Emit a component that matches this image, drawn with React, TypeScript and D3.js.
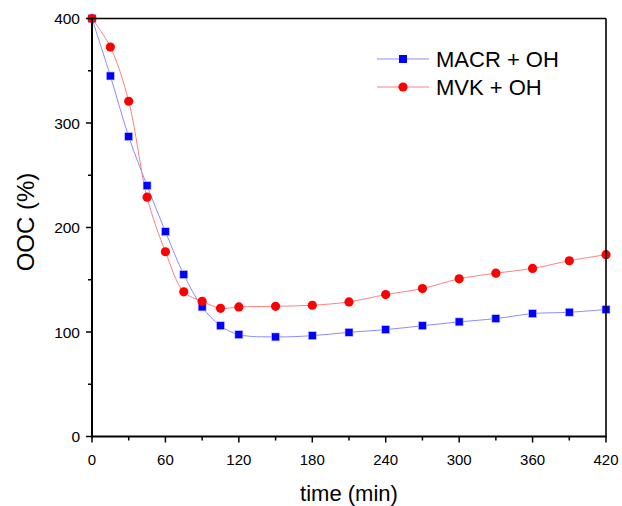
import React from "react";
import * as d3 from "d3";

const times = [0, 15, 30, 45, 60, 75, 90, 105, 120, 150, 180, 210, 240, 270, 300, 330, 360, 390, 420];
const macr = [400, 345, 287, 240, 196, 155, 124, 106, 97.5, 95.3, 96.5, 99.7, 102.3, 106, 109.7, 112.8, 117.6, 118.9, 121.5];
const mvk = [400, 372.7, 320.8, 229, 176.8, 138.4, 129.4, 122.7, 124, 124.6, 125.6, 128.8, 135.8, 141.6, 150.9, 156.3, 160.8, 168.2, 174];
const xTicks = [0, 60, 120, 180, 240, 300, 360, 420];
const xMinor = [30, 90, 150, 210, 270, 330, 390];
const yTicks = [0, 100, 200, 300, 400];
const yMinor = [50, 150, 250, 350];
const seriesNames = ["MACR + OH", "MVK + OH"];

const W = 622, H = 506;
const L = 92, R = 606, T = 18.5, B = 436.5;
const FONT = "Liberation Sans, Arial, sans-serif";

export default function App() {
  const x = d3.scaleLinear().domain([0, 420]).range([L, R]);
  const y = d3.scaleLinear().domain([0, 400]).range([B, T]);
  const line = d3.line<number>().curve(d3.curveCatmullRom.alpha(0.5));
  const blueLine = line(times.map((t, i) => [x(t), y(macr[i])] as any) as any) as string;
  const redLine = line(times.map((t, i) => [x(t), y(mvk[i])] as any) as any) as string;
  const sq = 8;
  return (
    <svg width={W} height={H} style={{ position: "absolute", left: 0, top: 0 }} fontFamily={FONT}>
      <rect x={0} y={0} width={W} height={H} fill="white" />
      <defs>
        <clipPath id="plot">
          <rect x={L} y={T - 6} width={R - L} height={B - T + 6} />
        </clipPath>
      </defs>
      {/* lines */}
      <g clipPath="url(#plot)">
        <path d={blueLine} fill="none" stroke="#8c8cff" strokeWidth={1} />
        <path d={redLine} fill="none" stroke="#ff8080" strokeWidth={1} />
      </g>
      {/* markers */}
      {times.map((t, i) => (
        <rect key={"b" + i} x={x(t) - sq / 2} y={y(macr[i]) - sq / 2} width={sq} height={sq} fill="#0000ff" stroke="#c8c8ff" strokeWidth={0.6} />
      ))}
      {times.map((t, i) => (
        <circle key={"r" + i} cx={x(t)} cy={y(mvk[i])} r={4.6} fill="#ff0000" />
      ))}
      {/* frame */}
      <line x1={L} x2={R} y1={T} y2={T} stroke="#000" strokeWidth={1.6} />
      <line x1={R} x2={R} y1={T} y2={B} stroke="#000" strokeWidth={1.6} />
      <line x1={L} x2={L} y1={T - 0.8} y2={B + 1} stroke="#000" strokeWidth={2} />
      <line x1={L - 1} x2={R + 0.8} y1={B} y2={B} stroke="#000" strokeWidth={2} />
      {/* x ticks */}
      {xTicks.map((t) => (
        <g key={"xt" + t}>
          <line x1={x(t)} x2={x(t)} y1={B} y2={B + 6} stroke="#000" strokeWidth={1.5} />
          <text x={x(t)} y={465} fontSize={15} textAnchor="middle">{t}</text>
        </g>
      ))}
      {xMinor.map((t) => (
        <line key={"xm" + t} x1={x(t)} x2={x(t)} y1={B} y2={B + 4} stroke="#000" strokeWidth={1.5} />
      ))}
      {yTicks.map((v) => (
        <g key={"yt" + v}>
          <line x1={L - 6} x2={L} y1={y(v)} y2={y(v)} stroke="#000" strokeWidth={1.5} />
          <text x={L - 12} y={y(v) + 5.5} fontSize={15.5} textAnchor="end">{v}</text>
        </g>
      ))}
      {yMinor.map((v) => (
        <line key={"ym" + v} x1={L - 4} x2={L} y1={y(v)} y2={y(v)} stroke="#000" strokeWidth={1.5} />
      ))}
      {/* axis titles */}
      <text x={349} y={501} fontSize={22} textAnchor="middle">time (min)</text>
      <text transform={`translate(33.5, 222) rotate(-90)`} fontSize={24} textAnchor="middle">OOC (%)</text>
      {/* legend */}
      <g>
        <line x1={377} x2={429} y1={59} y2={59} stroke="#8c8cff" strokeWidth={1} />
        <rect x={403 - sq / 2} y={59 - sq / 2} width={sq} height={sq} fill="#0000ff" />
        <text x={436} y={66.5} fontSize={22}>{seriesNames[0]}</text>
        <line x1={377} x2={429} y1={87} y2={87} stroke="#ff8080" strokeWidth={1} />
        <circle cx={403} cy={87} r={4.6} fill="#ff0000" />
        <text x={436} y={94.5} fontSize={22}>{seriesNames[1]}</text>
      </g>
    </svg>
  );
}
